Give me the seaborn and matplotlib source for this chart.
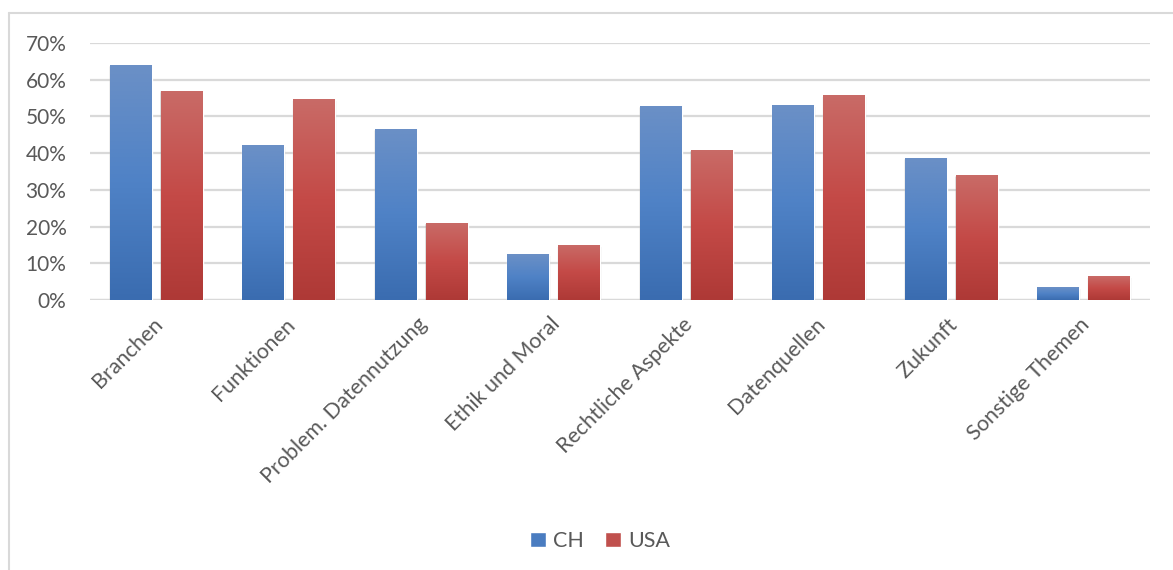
import numpy as np
import pandas as pd
import matplotlib
matplotlib.use("Agg")
import matplotlib.pyplot as plt
import matplotlib.transforms as mtransforms
from matplotlib.colors import LinearSegmentedColormap
from matplotlib.patches import Rectangle
import seaborn as sns

categories = ["Branchen", "Funktionen", "Problem. Datennutzung", "Ethik und Moral",
              "Rechtliche Aspekte", "Datenquellen", "Zukunft", "Sonstige Themen"]
ch_values = [64.0, 42.2, 46.6, 12.5, 52.9, 53.1, 38.7, 3.5]
usa_values = [57.0, 54.8, 21.0, 15.0, 40.9, 55.9, 34.0, 6.5]
series = ["CH", "USA"]
y_ticks = [0, 10, 20, 30, 40, 50, 60, 70]

df = pd.DataFrame({
    "Thema": categories * 2,
    "Land": ["CH"] * len(categories) + ["USA"] * len(categories),
    "Anteil": ch_values + usa_values,
})

sns.set_style("white")
plt.rcParams["font.family"] = ["Lato", "DejaVu Sans"]

text_color = "#595959"
grads = {
    "CH": ("#3a6cb0", "#4f82c6", "#6b90c6"),
    "USA": ("#ae3936", "#c44a47", "#c96b67"),
}
base = {"CH": "#4a7cc0", "USA": "#c0504d"}

fig = plt.figure(figsize=(11.73, 5.70), dpi=100)
ax = fig.add_axes([90 / 1173, 1 - 300 / 570, 1060 / 1173, 257 / 570])

sns.barplot(data=df, x="Thema", y="Anteil", hue="Land", palette=base,
            width=0.768, gap=0.177, ax=ax, legend=False, zorder=3)

ax.set_ylim(0, 70)
ax.set_xlim(-0.5, len(categories) - 0.5)

# gradient fill + soft shadow for each bar
for patch, land in zip(ax.patches, ["CH"] * len(categories) + ["USA"] * len(categories)):
    x0, y0 = patch.get_x(), patch.get_y()
    w, h = patch.get_width(), patch.get_height()
    if h <= 0:
        continue
    for k, a in enumerate([0.07, 0.05, 0.03]):
        sh = Rectangle((x0 - 0.002 * (k + 1), y0 - 0.3 * (k + 1)), w + 0.006 * (k + 1),
                       h + 0.1 * (k + 1), facecolor="black", alpha=a, lw=0, zorder=2)
        ax.add_patch(sh)
    cmap = LinearSegmentedColormap.from_list(land, grads[land])
    grad = np.linspace(0, 1, 256).reshape(-1, 1)
    im = ax.imshow(grad, extent=(x0, x0 + w, y0, y0 + h), origin="lower",
                   aspect="auto", cmap=cmap, zorder=4)
    im.set_clip_path(patch)

ax.set_xlim(-0.5, len(categories) - 0.5)
ax.set_ylim(0, 70)

ax.set_yticks(y_ticks)
ax.set_yticklabels([f"{t}%" for t in y_ticks])
ax.yaxis.grid(True, color="#d9d9d9", lw=1.6, zorder=0)
ax.set_axisbelow(True)
for s in ax.spines.values():
    s.set_visible(False)
ax.axhline(0, color="#d9d9d9", lw=1.6, zorder=1)

ax.set_xlabel("")
ax.set_ylabel("")
ax.tick_params(axis="y", length=0, pad=17, labelsize=15, labelcolor=text_color)
ax.tick_params(axis="x", length=0, pad=8, labelsize=15.5, labelcolor=text_color)
ax.set_xticks(range(len(categories)))
ax.set_xticklabels(categories, rotation=45, ha="right", va="center",
                   rotation_mode="anchor")
offset = mtransforms.ScaledTranslation(3 / 100, -10 / 100, fig.dpi_scale_trans)
for lbl in ax.get_xticklabels():
    lbl.set_transform(lbl.get_transform() + offset)

# legend
handles = [Rectangle((0, 0), 1, 1, facecolor=base[s]) for s in series]
fig.legend(handles, series, loc="center", bbox_to_anchor=(600 / 1173, 1 - 541 / 570),
           ncol=2, frameon=False, fontsize=15.5, labelcolor=text_color,
           handlelength=0.75, handleheight=0.75, handletextpad=0.3, columnspacing=1.0)

# chart border
fig.add_artist(plt.Line2D([8.5 / 1173, 1.0], [1 - 13 / 570, 1 - 13 / 570],
                          color="#d9d9d9", lw=1.5, transform=fig.transFigure))
fig.add_artist(plt.Line2D([8.5 / 1173, 8.5 / 1173], [0, 1 - 13 / 570],
                          color="#d9d9d9", lw=1.5, transform=fig.transFigure))

fig.savefig("out.png", dpi=100, facecolor="white")
